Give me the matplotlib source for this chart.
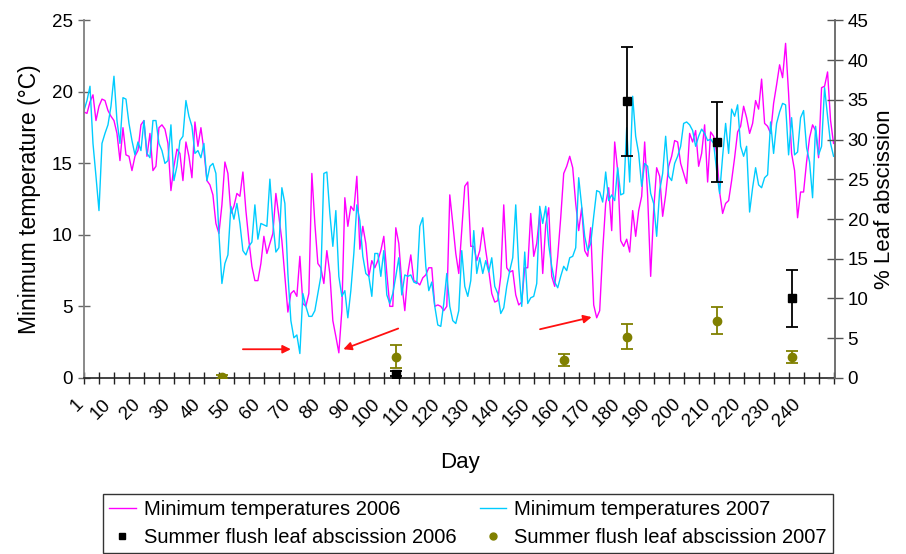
import matplotlib
matplotlib.use("Agg")
import matplotlib.pyplot as plt
import numpy as np

plt.rcParams['font.family'] = ['Liberation Sans', 'DejaVu Sans']

# daily minimum temperatures (deg C), first value = day 4
tmin_2006 = [
    18.6, 18.5, 19.3, 19.8, 18.0, 19.0, 19.5, 19.4, 18.7, 18.3,
    18.0, 17.1, 15.2, 17.5, 15.6, 15.5, 14.5, 15.5, 15.9,
    17.7, 18.0, 15.5, 17.1, 14.5, 14.8, 17.5, 17.7, 17.4, 16.4,
    13.1, 14.8, 16.0, 15.7, 13.8, 16.5, 15.5, 14.0, 17.9, 16.2,
    17.5, 15.9, 13.8, 13.5, 12.8, 10.8, 10.1, 12.1, 15.1, 14.3,
    11.5, 12.0, 12.9, 12.7, 14.4, 11.7, 9.6, 7.8, 6.8, 6.8,
    8.0, 9.9, 8.7, 9.4, 10.1, 12.9, 11.3,
    9.6, 7.1, 4.6, 5.9, 6.1, 5.7, 8.5, 5.2, 5.0, 5.9,
    14.3, 10.8, 8.0, 7.7, 6.6, 8.9, 7.3, 4.0, 2.9, 1.75,
    4.7, 12.6, 10.6, 12.0, 11.7, 14.1, 9.0, 10.6, 9.4, 7.1,
    8.2, 7.7, 8.2, 8.9, 9.9, 7.3, 5.0, 5.0, 10.5, 9.4,
    6.6, 4.7, 7.3, 8.6, 6.8, 6.7, 6.5, 7.0, 7.2, 7.7,
    7.7, 5.0, 5.1, 5.0, 4.7, 5.0, 12.8, 10.8, 8.7, 7.3,
    10.3, 13.4, 13.7, 9.2, 9.2, 8.2, 8.9, 10.5, 8.9, 7.5,
    5.9, 5.3, 5.4, 7.1, 12.1, 7.7, 7.4, 7.5, 5.8, 5.1,
    5.3, 7.7, 7.7, 11.5, 8.5, 9.4, 11.5, 7.3, 10.7, 11.9,
    7.1, 6.4, 8.5, 11.2, 14.3, 14.8, 15.5, 14.7, 12.2, 10.3,
    11.9, 8.9, 8.5, 10.5, 5.1, 4.2, 4.7, 8.9, 12.2, 13.3,
    10.3, 16.5, 14.5, 9.6, 9.2, 9.7, 8.8, 11.7, 9.9, 11.7,
    12.7,
    16.5, 12.7, 7.1, 11.7, 14.7, 14.1, 11.3, 12.8, 14.8, 15.5,
    16.6, 16.5, 15.0, 14.3, 13.6, 17.1, 16.5, 17.3, 14.8, 15.7,
    17.7, 13.7, 17.2, 16.9, 15.7, 13.0, 11.5, 12.2, 12.4, 13.8,
    15.4, 17.2, 17.6, 19.0, 18.2, 17.1, 17.8, 19.4, 18.8, 20.9,
    17.8, 17.6, 17.1, 19.2, 20.5, 21.9, 21.0, 23.4, 19.9, 15.7,
    14.5, 11.2, 13.0, 13.0, 15.1, 16.8, 17.7, 17.3, 15.4, 20.3,
    20.4, 21.4, 18.0, 16.4,
]

tmin_2007 = [
    18.7, 19.4, 20.4, 16.4, 14.1, 11.7, 16.4, 17.1, 17.7, 19.0,
    21.1, 18.0, 16.4, 19.6, 19.5, 17.8, 16.6, 15.6, 16.5, 15.9,
    18.0, 15.7, 15.4, 18.0, 18.0, 16.4, 15.9, 15.0, 15.2, 17.7,
    13.8, 14.8, 16.6, 16.9, 19.4, 18.3, 17.6, 15.7, 15.9, 15.4,
    16.4, 13.8, 14.8, 15.0, 14.3, 10.1, 6.6, 8.0, 8.6, 12.0,
    11.1, 12.2, 10.8, 8.9, 8.6, 9.2, 9.5, 12.1, 9.7, 10.8,
    10.7, 10.6, 13.9, 10.9, 8.8, 9.1,
    13.3, 12.2, 7.3, 4.0, 2.8, 3.0, 1.7, 5.9, 5.0, 4.3,
    4.3, 4.7, 5.9, 7.1, 14.3, 14.4, 11.5, 9.2, 11.7,
    7.1, 5.7, 6.1, 4.2, 6.1, 8.7, 12.1, 11.0, 8.5, 7.3,
    7.1, 5.7, 8.7, 8.7, 7.1, 8.9, 5.8, 5.2, 5.9, 7.1,
    8.4, 5.8, 7.2, 7.1, 7.2, 6.7, 6.6, 10.6, 11.2, 7.8,
    6.1, 6.7, 5.0, 3.7, 3.6, 5.2, 7.3, 5.0, 4.0, 3.8,
    4.7,
    8.9, 6.4, 5.7, 6.8, 10.3, 7.3, 8.4, 7.3, 8.2, 7.4,
    8.4, 6.4, 5.9, 4.5, 4.9, 6.4, 7.5, 8.4, 12.1, 7.7,
    5.0, 8.8, 5.2, 5.6, 5.7, 6.6, 12.0, 10.8, 12.0, 9.3,
    7.8, 6.7, 6.3, 7.1, 7.8, 7.5, 8.4, 8.5, 9.1, 14.0,
    12.0, 9.9, 8.9, 9.4, 11.3, 13.1, 13.0, 12.3, 14.4, 12.4,
    12.8, 12.4, 14.7, 12.8, 12.9, 17.5, 13.7, 19.7, 16.9,
    15.7,
    13.4, 15.0, 14.8, 12.9, 12.2, 9.9, 13.1, 14.3, 16.9, 14.1,
    13.8, 15.0, 15.5, 16.2, 17.8, 17.9, 17.7, 17.3, 16.2, 16.9,
    17.4, 17.1, 16.6, 16.7, 16.4, 14.5, 12.9, 15.5, 17.8, 15.7,
    18.8, 18.3, 19.1, 16.2, 15.5, 16.2, 11.6, 13.3, 14.7, 13.5,
    13.3, 14.0, 14.2, 17.9, 15.7, 17.8, 18.6, 19.2, 19.1, 15.6,
    18.2, 15.6, 15.8, 18.2, 18.7, 16.1, 15.1, 12.6, 17.6, 15.6,
    16.2, 20.3, 18.3, 16.4, 15.5,
]
first_day = 4

# summer flush leaf abscission (%), mean and error
abs_days_2006 = [108, 185, 215, 240]
abs_2006 = [0.5, 34.8, 29.7, 10.0]
err_2006 = [0.3, 6.9, 5.0, 3.6]

abs_days_2007 = [50, 108, 164, 185, 215, 240]
abs_2007 = [0.1, 2.65, 2.2, 5.2, 7.2, 2.65]
err_2007 = [0.2, 1.45, 0.75, 1.55, 1.7, 0.75]

label_days = list(range(10, 241, 10))

# red arrows marking cold events: (start day, start temp, end day, end temp)
arrows = [(57.0, 2.0, 73.0, 2.0), (108.8, 3.45, 90.5, 2.0), (156.1, 3.4, 173.3, 4.25)]

days_2006 = first_day + np.arange(len(tmin_2006))
days_2007 = first_day + np.arange(len(tmin_2007))

fig = plt.figure(figsize=(9.06, 5.54), dpi=100)
ax = fig.add_axes([0.0927, 0.318, 0.829, 0.645])
ax2 = ax.twinx()

l06, = ax.plot(days_2006, tmin_2006, color='#FF00FF', lw=1.0, label='Minimum temperatures 2006')
l07, = ax.plot(days_2007, tmin_2007, color='#00CCFF', lw=1.0, label='Minimum temperatures 2007')

for x0, y0, x1, y1 in arrows:
    ax.annotate('', xy=(x1, y1), xytext=(x0, y0),
                arrowprops=dict(arrowstyle='-|>', color='#FF1010', lw=1.3,
                                mutation_scale=12, shrinkA=0, shrinkB=0))

ax.set_xlim(first_day, 254.5)
ax.set_ylim(0, 25)
ax.set_yticks(range(0, 26, 5))
ax.set_xticks(label_days)
ax.set_xticklabels([str(d) for d in label_days], rotation=45, ha='right',
                   va='top', rotation_mode='anchor')
ax.set_xticks(np.arange(first_day, 255, 5), minor=True)
ax.tick_params(axis='x', which='major', length=0, pad=13, labelsize=13.5)
ax.tick_params(axis='x', which='minor', direction='inout', length=8, width=1, color='#222222')
ax.tick_params(axis='y', direction='inout', length=8, width=1, color='#666666', labelsize=13.5, pad=4)
ax.annotate('1', xy=(1, 0), xycoords=('data', 'axes fraction'), xytext=(0, -13),
            textcoords='offset points', rotation=45, ha='right', va='top',
            rotation_mode='anchor', fontsize=13.5, annotation_clip=False)

ax.set_ylabel('Minimum temperature (°C)', fontsize=16.5, labelpad=8)
ax.set_xlabel('Day', fontsize=16, labelpad=16)

ax.spines['top'].set_visible(False)
ax.spines['right'].set_visible(False)
ax.spines['left'].set_color('#808080')
ax.spines['left'].set_linewidth(1.3)
ax.spines['bottom'].set_color('#222222')
ax.spines['bottom'].set_linewidth(1.2)

e06 = ax2.errorbar(abs_days_2006, abs_2006, yerr=err_2006, fmt='s', color='black',
                   ms=6, capsize=4, elinewidth=1.3, capthick=1.3,
                   label='Summer flush leaf abscission 2006')
e07 = ax2.errorbar(abs_days_2007, abs_2007, yerr=err_2007, fmt='o', color='#808000',
                   ms=6, capsize=4, elinewidth=1.3, capthick=1.3,
                   label='Summer flush leaf abscission 2007')
ax2.set_ylim(0, 45)
ax2.set_yticks(range(0, 46, 5))
ax2.tick_params(axis='y', direction='inout', length=12, width=1, color='#555555', labelsize=13.5, pad=3)
ax2.set_ylabel('% Leaf abscission', fontsize=16, labelpad=4)
for s in ['top', 'left', 'bottom']:
    ax2.spines[s].set_visible(False)
ax2.spines['right'].set_color('#666666')
ax2.spines['right'].set_linewidth(1.3)

h_sq = plt.Line2D([], [], ls='none', marker='s', color='black', ms=5)
h_ci = plt.Line2D([], [], ls='none', marker='o', color='#808000', ms=5)
leg = fig.legend([l06, h_sq, l07, h_ci],
                 ['Minimum temperatures 2006', 'Summer flush leaf abscission 2006',
                  'Minimum temperatures 2007', 'Summer flush leaf abscission 2007'],
                 ncol=2, loc='lower left', bbox_to_anchor=(0.114, 0.002, 0.805, 0.101),
                 mode='expand', fontsize=14.5, frameon=True, fancybox=False,
                 edgecolor='black', handlelength=1.3, handletextpad=0.4,
                 borderpad=0.3, labelspacing=0.45, borderaxespad=0)
leg.get_frame().set_linewidth(1.0)

fig.savefig('out.png', dpi=100)
